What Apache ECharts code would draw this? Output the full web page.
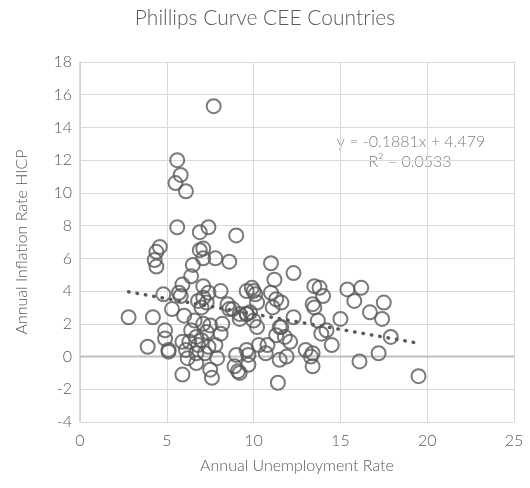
<!DOCTYPE html>
<html>
<head>
<meta charset="utf-8">
<script src="https://cdn.jsdelivr.net/npm/echarts@6/dist/echarts.min.js"></script>
<style>html,body{margin:0;padding:0;background:#fff}#c{width:530px;height:488px}</style>
</head>
<body>
<div id="c"></div>
<script>
// Annual unemployment rate (x) vs annual HICP inflation (y)
const unemployment = [
  7.7, 5.6, 5.8, 5.5, 6.1, 5.6, 7.4, 6.9, 9.0, 4.6,
  4.4, 4.3, 4.4, 7.1, 6.9, 7.1, 7.8, 8.6, 6.5, 6.4,
  11.0, 12.3, 11.2, 5.9, 5.7, 5.8, 4.8, 7.1, 7.4, 8.1,
  6.8, 7.1, 7.3, 8.5, 9.6, 9.9, 10.0, 10.1, 10.2, 11.0,
  11.3, 11.6, 13.5, 13.8, 14.0, 13.4, 15.4, 16.2, 15.8, 17.5,
  16.7, 17.4, 15.0, 14.2, 13.9, 13.7, 14.5, 17.9, 17.2, 16.1,
  19.5, 12.3, 11.1, 13.5, 13.0, 13.4, 13.3, 13.4, 11.5, 11.3,
  11.8, 12.1, 11.9, 11.5, 11.4, 10.3, 10.8, 10.7, 9.6, 9.7,
  9.0, 8.9, 9.1, 9.7, 9.2, 10.2, 10.0, 9.8, 9.2, 8.8,
  9.2, 9.6, 8.2, 8.1, 7.0, 2.8, 4.2, 5.3, 6.0, 4.9,
  4.9, 3.9, 5.1, 5.9, 6.1, 6.2, 5.9, 6.7, 6.6, 7.1,
  7.3, 6.8, 6.7, 6.7, 7.4, 7.8, 7.9, 7.5, 7.6, 6.4,
  7.0, 7.2, 6.3, 7.5, 8.6, 11.6, 5.1, 9.6
];
const inflation = [
  15.3, 12.0, 11.1, 10.6, 10.1, 7.9, 7.9, 7.6, 7.4, 6.7,
  6.4, 5.9, 5.5, 6.6, 6.5, 6.0, 6.0, 5.8, 5.6, 4.9,
  5.7, 5.1, 4.7, 4.4, 3.9, 3.7, 3.8, 4.3, 3.9, 4.0,
  3.4, 3.6, 3.3, 3.2, 4.0, 4.2, 4.0, 3.8, 3.3, 3.9,
  3.5, 3.3, 4.3, 4.2, 3.7, 3.2, 4.1, 4.2, 3.4, 3.3,
  2.7, 2.3, 2.3, 1.6, 1.4, 2.2, 0.7, 1.2, 0.2, -0.3,
  -1.2, 2.4, 3.0, 3.0, 0.4, 0.2, 0.0, -0.6, 1.8, 1.3,
  1.2, 0.9, 0.0, -0.2, -1.6, 0.7, 0.7, 0.2, 0.4, 0.1,
  0.1, -0.6, -0.9, -0.5, -1.0, 1.8, 2.2, 2.7, 2.3, 2.9,
  2.6, 2.6, 2.0, 1.4, 3.0, 2.4, 2.4, 2.9, 2.5, 1.6,
  1.1, 0.6, 0.3, 0.9, 0.4, -0.1, -1.1, 1.2, 2.2, 2.0,
  1.5, 0.7, 0.2, -0.4, 0.6, 0.7, -0.1, -0.8, -1.3, 1.6,
  1.0, 0.2, 0.9, 1.9, 2.9, 1.8, 0.4, 2.6
];
const trendSlope = -0.1881;
const trendIntercept = 4.479;
const trendLabel = ['y = -0.1881x + 4.479', 'R\u00b2 = 0.0533'];
const xTicks = [0, 25, 5];
const yTicks = [-4, 18, 2];

const points = unemployment.map((u, i) => [u, inflation[i]]);
const xMin = Math.min(...unemployment), xMax = Math.max(...unemployment);
const trend = [[xMin, trendSlope * xMin + trendIntercept], [xMax, trendSlope * xMax + trendIntercept]];

const FONT = 'Lato';
const W = 300;
const TXT = '#595959';
const chart = echarts.init(document.getElementById('c'), null, {renderer: 'canvas'});
chart.setOption({
  animation: false,
  backgroundColor: '#ffffff',
  title: {
    text: 'Phillips Curve CEE Countries',
    left: 'center', top: 3,
    textStyle: {fontFamily: FONT, fontSize: 21, fontWeight: W, color: TXT}
  },
  grid: {left: 80, right: 16, top: 62, bottom: 66},
  xAxis: {
    type: 'value', min: xTicks[0], max: xTicks[1], interval: xTicks[2],
    name: 'Annual Unemployment Rate', nameLocation: 'middle', nameGap: 36,
    nameTextStyle: {fontFamily: FONT, fontSize: 16, fontWeight: W, color: TXT},
    axisLine: {show: false}, axisTick: {show: false},
    axisLabel: {fontFamily: FONT, fontSize: 16, fontWeight: W, color: TXT, margin: 11},
    splitLine: {show: true, lineStyle: {color: '#d9d9d9', width: 1}}
  },
  yAxis: {
    type: 'value', min: yTicks[0], max: yTicks[1], interval: yTicks[2],
    name: 'Annual Inflation Rate HICP', nameLocation: 'middle', nameGap: 50,
    nameTextStyle: {fontFamily: FONT, fontSize: 16, fontWeight: W, color: TXT},
    axisLine: {show: true, lineStyle: {color: '#d0d0d0', width: 1.5}}, axisTick: {show: false},
    axisLabel: {fontFamily: FONT, fontSize: 16, fontWeight: W, color: TXT, margin: 8},
    splitLine: {show: true, lineStyle: {color: '#d9d9d9', width: 1}}
  },
  series: [
    {
      type: 'line', data: [[xTicks[0], 0], [xTicks[1], 0]], symbol: 'none', silent: true,
      lineStyle: {color: '#bfbfbf', width: 2}, z: 1
    },
    {
      type: 'scatter', data: points, symbol: 'circle', symbolSize: 14,
      itemStyle: {color: 'rgba(0,0,0,0)', borderColor: '#595959', borderWidth: 2}, z: 3
    },
    {
      type: 'line', data: trend, symbol: 'none', silent: true,
      lineStyle: {color: '#595959', width: 3.5, type: [0.5, 8], cap: 'round'}, z: 4
    }
  ],
  graphic: [
    {type: 'text', x: 411, y: 142, style: {text: trendLabel[0], fontFamily: FONT, fontSize: 16, fontWeight: W, fill: '#7f7f7f', align: 'center', verticalAlign: 'middle'}},
    {type: 'text', x: 410, y: 162, style: {text: trendLabel[1], fontFamily: FONT, fontSize: 16, fontWeight: W, fill: '#7f7f7f', align: 'center', verticalAlign: 'middle'}}
  ]
});
</script>
</body>
</html>
